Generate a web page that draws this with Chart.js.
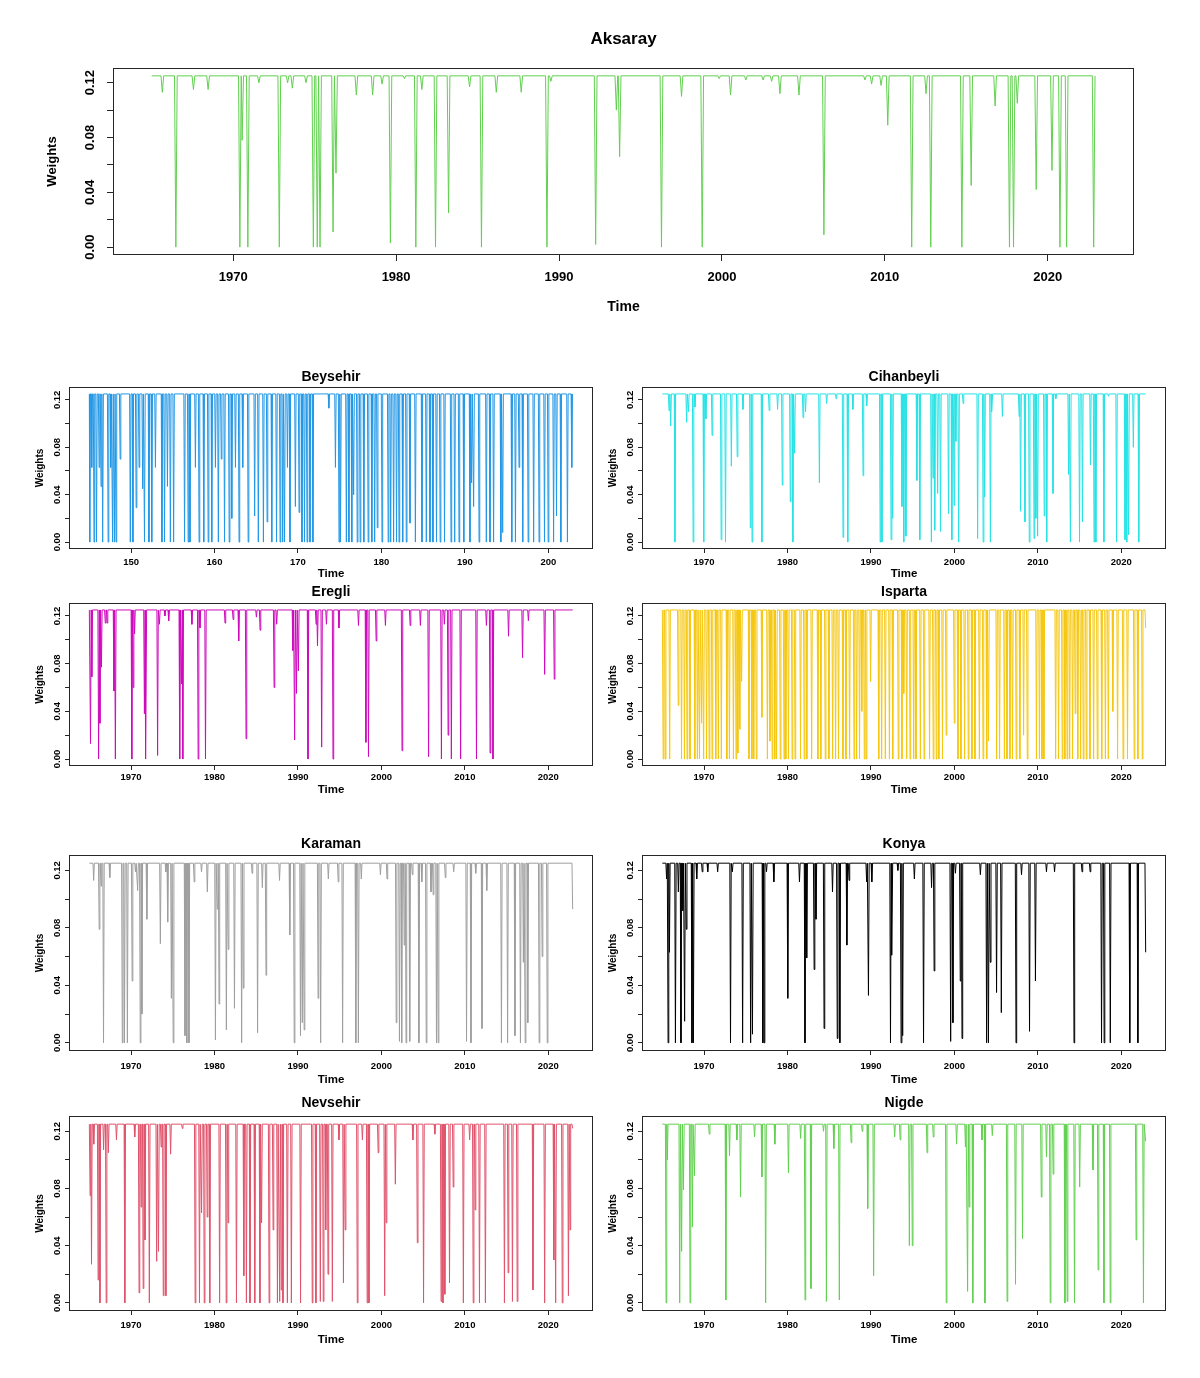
<!DOCTYPE html>
<html>
<head>
<meta charset="utf-8">
<script src="https://cdn.jsdelivr.net/npm/chart.js@4.4.1/dist/chart.umd.min.js"></script>
<style>
  body { margin: 0; background: #fff; }
  #page { position: relative; width: 1200px; height: 1378px; overflow: hidden; }
  #page canvas { position: absolute; }
</style>
</head>
<body>
<div id="page"></div>
<script>
// monthly weights, Jan 1965 - Dec 2022; the series sits at the top weight and dips
const baseWeight = 0.125;
const startYear = 1965;
const endYear = 2022.917;
const startIndex = 145;   // Beysehir is plotted against a plain index axis
const endIndex = 202.917;

const yearTicks = [1970, 1980, 1990, 2000, 2010, 2020];
const indexTicks = [150, 160, 170, 180, 190, 200];
const weightTicks = [0, 0.02, 0.04, 0.06, 0.08, 0.1, 0.12];
const weightTickLabels = ['0.00', '', '0.04', '', '0.08', '', '0.12'];

// dips: time of the lowest month and the weight it reaches
const aksarayTimes = [1965.65, 1966.48, 1967.56, 1968.46, 1970.41, 1970.55, 1970.90, 1971.58, 1972.83, 1973.34, 1973.63, 1974.47,
  1974.92, 1975.16, 1975.33, 1976.13, 1976.31, 1977.56, 1978.56, 1979.14, 1979.65, 1980.51, 1981.21, 1981.58, 1982.42,
  1983.22, 1984.51, 1985.24, 1986.15, 1987.68, 1989.26, 1989.5, 1992.25, 1993.52, 1993.72, 1996.29, 1997.52, 1998.79,
  1999.83, 2000.53, 2001.47, 2002.53, 2003.05, 2003.56, 2004.73, 2006.26, 2008.78, 2009.19, 2009.77, 2010.18, 2011.65,
  2012.53, 2012.82, 2014.73, 2015.3, 2016.77, 2017.65, 2017.9, 2018.13, 2019.29, 2020.26, 2020.75, 2021.16, 2022.82];
const aksarayWeights = [0.113, 0, 0.115, 0.115, 0, 0.078, 0, 0.12, 0, 0.12, 0.116, 0.12,
  0, 0, 0, 0.011, 0.054, 0.111, 0.111, 0.119, 0.003, 0.123, 0, 0.115, 0,
  0.025, 0.117, 0, 0.113, 0.113, 0, 0.121, 0.002, 0.1, 0.066, 0, 0.11, 0,
  0.123, 0.111, 0.122, 0.122, 0.121, 0.112, 0.111, 0.009, 0.122, 0.119, 0.118, 0.089, 0,
  0.112, 0, 0, 0.045, 0.103, 0, 0, 0.105, 0.042, 0.056, 0, 0, 0];

const beysehirTimes = [145.05, 145.29, 145.56, 145.86, 146.17, 146.4, 146.6, 147.25, 147.56, 147.78, 148.0, 148.2, 148.69,
  149.91, 150.22, 150.61, 150.96, 151.39, 151.61, 152.14, 152.48, 152.92, 153.7, 154.01, 154.36, 154.71, 155.1,
  156.41, 156.84, 157.06, 157.71, 158.15, 158.71, 159.24, 159.67, 160.11, 160.46, 160.81, 161.2, 161.76, 162.07,
  162.51, 162.94, 163.38, 164.03, 164.81, 165.25, 165.86, 166.3, 166.86, 167.43, 167.86, 168.17, 168.39, 168.74,
  169.04, 169.69, 170.13, 170.48, 170.78, 171.09, 171.44, 171.79, 173.7, 174.49, 174.92, 175.1, 175.8, 176.1,
  176.45, 176.67, 177.1, 177.45, 177.89, 178.41, 178.85, 179.19, 179.5, 180.07, 180.81, 181.11, 181.46, 181.81,
  182.11, 182.55, 182.98, 183.42, 184.07, 184.86, 185.38, 185.82, 186.17, 186.6, 187.04, 187.56, 188.34, 188.78,
  189.3, 189.87, 190.61, 190.8, 191.05, 191.7, 192.57, 193.01, 193.44, 194.31, 194.53, 195.62, 196.06, 196.49,
  196.93, 197.58, 198.24, 198.89, 199.54, 199.98, 200.63, 200.98, 201.5, 202.29, 202.81];
const beysehirWeights = [0, 0.063, 0, 0, 0.063, 0.047, 0, 0, 0.063, 0, 0, 0, 0.07,
  0, 0, 0.029, 0.063, 0.045, 0, 0, 0, 0.063, 0, 0, 0.047, 0, 0,
  0, 0, 0, 0.063, 0, 0, 0, 0, 0.063, 0, 0.07, 0, 0, 0.02,
  0.063, 0, 0.063, 0, 0.022, 0, 0, 0.017, 0, 0, 0, 0, 0, 0.063,
  0, 0.03, 0.025, 0, 0, 0, 0, 0, 0.113, 0.063, 0, 0, 0, 0,
  0, 0.04, 0, 0, 0, 0, 0, 0, 0.012, 0, 0, 0, 0, 0,
  0, 0, 0, 0.016, 0, 0, 0, 0, 0, 0, 0, 0, 0, 0,
  0, 0, 0, 0.05, 0.03, 0, 0, 0, 0, 0, 0.008, 0, 0, 0.063,
  0, 0, 0, 0, 0, 0, 0, 0.022, 0, 0, 0.063];

const cihanbeyliTimes = [1965.8, 1966.0, 1966.51, 1967.91, 1968.13, 1968.69, 1968.91, 1969.96, 1970.22, 1970.96, 1972.05, 1972.57,
  1973.27, 1973.97, 1974.66, 1975.54, 1975.75, 1976.93, 1977.8, 1978.81, 1979.37, 1980.33, 1980.64, 1980.85, 1981.86,
  1982.16, 1983.82, 1984.69, 1985.82, 1986.65, 1987.22, 1987.83, 1989.05, 1989.49, 1991.1, 1991.32, 1992.41, 1992.6,
  1993.71, 1993.93, 1994.19, 1995.5, 1995.85, 1997.24, 1997.44, 1997.64, 1997.99, 1998.33, 1999.29, 1999.69, 1999.95,
  2000.17, 2000.51, 2001.04, 2002.78, 2003.44, 2003.62, 2004.31, 2004.5, 2005.75, 2007.75, 2007.93, 2008.45, 2008.97,
  2009.54, 2009.76, 2009.97, 2010.76, 2011.06, 2011.81, 2012.15, 2013.68, 2013.9, 2014.99, 2015.34, 2016.3, 2016.73,
  2016.95, 2017.91, 2018.47, 2019.43, 2020.44, 2020.65, 2020.87, 2021.44, 2022.09];
const cihanbeyliWeights = [0.111, 0.098, 0, 0.101, 0.11, 0, 0.114, 0, 0.104, 0.09, 0.002, 0,
  0.064, 0.072, 0.112, 0.012, 0, 0, 0.111, 0.112, 0.048, 0.034, 0, 0.075, 0.105,
  0.11, 0.05, 0.117, 0.121, 0.004, 0, 0.112, 0.056, 0.115, 0, 0, 0.002, 0.02,
  0.03, 0, 0.005, 0.052, 0.002, 0, 0.054, 0.01, 0.041, 0.009, 0.024, 0.002, 0.031,
  0.085, 0, 0.117, 0.003, 0, 0.038, 0, 0.11, 0.106, 0.106, 0.026, 0.017, 0,
  0.003, 0.02, 0.005, 0.022, 0, 0.041, 0.121, 0.057, 0, 0, 0.017, 0.065, 0,
  0, 0, 0.123, 0, 0.002, 0, 0.006, 0.08, 0];

const eregliTimes = [1965.14, 1965.3, 1966.11, 1966.27, 1966.45, 1966.91, 1967.13, 1967.95, 1968.12, 1970.09, 1970.25, 1970.42,
  1971.6, 1971.78, 1973.18, 1973.4, 1974.06, 1974.51, 1975.83, 1976.05, 1976.2, 1977.29, 1978.04, 1978.26, 1978.92,
  1981.26, 1982.23, 1982.9, 1983.78, 1985.02, 1985.46, 1987.14, 1987.45, 1989.39, 1989.6, 1989.82, 1990.05, 1991.2,
  1992.17, 1992.34, 1992.84, 1993.41, 1994.2, 1994.91, 1997.25, 1998.14, 1998.45, 1999.37, 2000.48, 2002.47, 2003.44,
  2004.67, 2005.65, 2007.19, 2007.54, 2007.99, 2008.38, 2009.49, 2011.39, 2012.58, 2013.02, 2013.37, 2015.23, 2016.91,
  2017.61, 2019.56, 2020.71];
const eregliWeights = [0.013, 0.069, 0, 0.03, 0.077, 0.114, 0.114, 0.057, 0, 0, 0.06, 0.105,
  0.038, 0, 0.003, 0.113, 0.12, 0.116, 0, 0.063, 0, 0.113, 0, 0.11, 0,
  0.114, 0.117, 0.099, 0.017, 0.119, 0.108, 0.06, 0.113, 0.091, 0.016, 0.055, 0.074, 0,
  0.113, 0.095, 0.01, 0.113, 0, 0.11, 0.112, 0.014, 0.002, 0.099, 0.112, 0.007, 0.112,
  0.112, 0.002, 0, 0.113, 0.02, 0, 0, 0, 0.112, 0.005, 0, 0.103, 0.085,
  0.116, 0.071, 0.067];

const ispartaTimes = [1965.1, 1965.35, 1965.88, 1966.9, 1967.3, 1967.65, 1967.96, 1968.31, 1968.89, 1969.2, 1969.45, 1969.7,
  1969.95, 1970.3, 1970.61, 1970.96, 1971.4, 1971.71, 1972.07, 1972.73, 1973.04, 1973.52, 1973.83, 1974.05, 1974.28,
  1974.5, 1975.38, 1975.73, 1975.95, 1976.26, 1976.93, 1977.59, 1977.9, 1978.16, 1978.47, 1978.69, 1979.13, 1979.58,
  1979.8, 1980.11, 1980.55, 1980.9, 1981.56, 1982.0, 1982.31, 1982.89, 1983.64, 1983.99, 1984.52, 1984.96, 1985.41,
  1985.76, 1986.11, 1986.64, 1987.0, 1987.44, 1987.97, 1988.28, 1988.63, 1988.9, 1989.2, 1989.43, 1989.96, 1990.93,
  1991.28, 1991.72, 1992.21, 1992.61, 1993.27, 1993.71, 1993.93, 1994.28, 1994.68, 1995.12, 1995.39, 1995.92, 1996.36,
  1997.02, 1997.46, 1997.82, 1998.13, 1998.57, 1999.01, 1999.98, 2000.42, 2000.78, 2001.22, 2001.66, 2002.1, 2002.46,
  2002.99, 2003.43, 2003.87, 2004.09, 2005.06, 2005.41, 2005.99, 2006.3, 2006.65, 2006.96, 2007.4, 2007.84, 2008.29,
  2008.73, 2009.83, 2010.19, 2010.49, 2010.72, 2012.13, 2012.48, 2012.92, 2013.23, 2013.5, 2013.81, 2014.16, 2014.47,
  2014.78, 2015.13, 2015.44, 2015.8, 2016.24, 2016.68, 2017.12, 2017.65, 2018.09, 2018.44, 2018.98, 2019.55, 2020.21,
  2020.74, 2021.54, 2021.98, 2022.51, 2022.917];
const ispartaWeights = [0, 0, 0, 0.045, 0, 0, 0, 0, 0, 0, 0, 0.03,
  0, 0, 0, 0, 0, 0, 0, 0, 0, 0, 0, 0.005, 0.025,
  0.065, 0, 0, 0, 0, 0.035, 0, 0.015, 0, 0, 0, 0, 0,
  0, 0, 0, 0, 0, 0, 0, 0, 0, 0, 0, 0, 0,
  0, 0, 0, 0, 0, 0, 0, 0, 0.04, 0, 0, 0.065, 0,
  0, 0, 0, 0, 0, 0, 0.055, 0, 0, 0, 0, 0, 0,
  0, 0, 0, 0, 0, 0.02, 0.03, 0, 0, 0, 0, 0, 0,
  0, 0, 0, 0.015, 0, 0, 0, 0, 0, 0, 0, 0, 0.02,
  0, 0, 0, 0, 0, 0, 0, 0, 0, 0, 0, 0, 0.038,
  0, 0, 0, 0, 0, 0, 0, 0, 0, 0, 0.04, 0, 0,
  0, 0, 0, 0, 0.11];

const karamanTimes = [1965.52, 1966.18, 1966.4, 1966.7, 1967.45, 1968.95, 1969.21, 1969.56, 1970.13, 1970.53, 1970.79, 1971.1,
  1971.3, 1971.89, 1973.51, 1974.17, 1974.39, 1974.83, 1975.05, 1976.46, 1976.68, 1976.94, 1977.56, 1978.44, 1979.14,
  1980.11, 1980.33, 1980.54, 1981.42, 1981.64, 1982.39, 1983.25, 1983.45, 1984.5, 1985.16, 1985.73, 1986.17, 1987.79,
  1989.02, 1989.55, 1990.3, 1990.52, 1990.74, 1992.41, 1992.72, 1993.64, 1994.82, 1995.35, 1996.93, 1997.24, 1997.59,
  1999.88, 2000.67, 2001.77, 2002.16, 2002.43, 2002.73, 2002.95, 2003.39, 2003.7, 2004.49, 2004.84, 2005.37, 2005.94,
  2006.2, 2006.6, 2006.8, 2007.65, 2008.66, 2010.2, 2010.73, 2011.3, 2012.05, 2012.62, 2014.38, 2015.12, 2016.0,
  2016.66, 2017.01, 2017.23, 2017.54, 2018.9, 2019.26, 2019.87, 2022.917];
const karamanWeights = [0.113, 0.079, 0.109, 0, 0.115, 0, 0, 0, 0.043, 0.119, 0.106, 0,
  0.02, 0.086, 0.069, 0.119, 0.084, 0.031, 0, 0.005, 0, 0, 0.112, 0.119, 0.105,
  0.002, 0.093, 0.027, 0.009, 0.065, 0.024, 0, 0.038, 0.118, 0.007, 0.108, 0.047, 0.113,
  0.075, 0, 0.005, 0.014, 0.009, 0.031, 0, 0.114, 0.112, 0, 0, 0, 0.114,
  0.117, 0.114, 0.014, 0.001, 0, 0.068, 0, 0.001, 0.117, 0, 0.112, 0, 0.105,
  0.103, 0, 0, 0.115, 0.119, 0.001, 0, 0.118, 0.01, 0.106, 0, 0, 0.005,
  0, 0.056, 0, 0.014, 0, 0.06, 0, 0.093];

const konyaTimes = [1965.51, 1965.69, 1965.85, 1966.57, 1966.92, 1967.23, 1967.45, 1967.67, 1967.87, 1968.55, 1968.72, 1969.12,
  1969.78, 1970.44, 1971.63, 1973.17, 1973.39, 1974.62, 1975.58, 1975.8, 1977.04, 1977.2, 1977.48, 1978.36, 1980.03,
  1981.43, 1982.09, 1982.3, 1983.19, 1983.41, 1984.38, 1985.39, 1985.96, 1986.27, 1987.11, 1987.37, 1989.48, 1989.7,
  1990.1, 1992.34, 1992.52, 1993.22, 1993.61, 1993.8, 1995.2, 1996.3, 1997.26, 1997.57, 1999.55, 1999.82, 2000.12,
  2000.7, 2000.91, 2003.11, 2003.86, 2004.08, 2004.3, 2005.05, 2005.62, 2007.38, 2008.04, 2009.0, 2009.71, 2011.03,
  2012.0, 2014.33, 2015.29, 2016.26, 2017.63, 2017.94, 2018.68, 2021.01, 2021.98, 2022.917];
const konyaWeights = [0.114, 0, 0.063, 0, 0.105, 0, 0.092, 0.015, 0.079, 0, 0, 0.114,
  0.119, 0.119, 0.119, 0, 0.119, 0, 0, 0.006, 0, 0, 0.119, 0.112, 0.031,
  0.112, 0, 0.059, 0.051, 0.086, 0.01, 0.105, 0.003, 0, 0.068, 0.113, 0.112, 0.033,
  0.112, 0, 0.061, 0.12, 0, 0.005, 0.114, 0, 0.108, 0.05, 0.001, 0.014, 0.118,
  0.043, 0.003, 0.117, 0, 0, 0.056, 0.035, 0.021, 0, 0.117, 0.008, 0.043, 0.119,
  0.119, 0, 0.119, 0.119, 0, 0, 0, 0, 0, 0.063];

const nevsehirTimes = [1965.09, 1965.26, 1965.53, 1966.05, 1966.27, 1966.71, 1967.02, 1967.28, 1968.25, 1969.25, 1970.44, 1970.96,
  1971.2, 1971.45, 1971.67, 1972.19, 1973.07, 1973.29, 1973.6, 1973.86, 1974.17, 1974.74, 1976.14, 1977.68, 1978.2,
  1978.45, 1978.77, 1979.12, 1979.43, 1980.61, 1981.4, 1981.62, 1982.63, 1983.51, 1983.82, 1984.25, 1984.82, 1985.44,
  1985.64, 1986.54, 1987.02, 1987.54, 1987.81, 1988.0, 1988.2, 1988.73, 1989.21, 1990.31, 1991.71, 1992.15, 1992.68,
  1993.03, 1993.33, 1993.6, 1994.12, 1994.91, 1995.45, 1995.66, 1997.11, 1997.72, 1998.29, 1998.51, 1999.61, 2000.39,
  2000.57, 2001.67, 2003.77, 2004.3, 2005.05, 2006.4, 2007.15, 2007.37, 2007.6, 2008.16, 2008.6, 2009.82, 2010.57,
  2011.0, 2011.23, 2011.75, 2012.46, 2014.74, 2015.18, 2015.7, 2016.27, 2018.16, 2019.56, 2020.66, 2020.88, 2021.67,
  2022.41, 2022.6, 2022.917];
const nevsehirWeights = [0.075, 0.027, 0.111, 0.016, 0, 0.107, 0, 0.105, 0.114, 0, 0.116, 0.007,
  0.067, 0.01, 0.044, 0, 0.029, 0.036, 0.109, 0.005, 0.005, 0.104, 0.122, 0, 0,
  0.063, 0, 0.06, 0, 0, 0, 0.056, 0, 0.019, 0, 0, 0, 0,
  0.056, 0, 0.051, 0, 0.001, 0.009, 0, 0, 0, 0, 0, 0, 0.001,
  0.001, 0.051, 0.02, 0.001, 0.114, 0.014, 0.051, 0, 0.114, 0, 0, 0.105, 0.005,
  0.056, 0.083, 0.114, 0.042, 0, 0.118, 0.001, 0, 0.006, 0.014, 0.081, 0, 0.114,
  0, 0.065, 0, 0, 0, 0.021, 0.001, 0.001, 0.009, 0, 0.03, 0, 0,
  0.005, 0.051, 0.122];

const nigdeTimes = [1965.45, 1965.6, 1967.08, 1967.31, 1967.53, 1968.32, 1968.6, 1968.85, 1970.62, 1972.61, 1973.05, 1973.93,
  1974.37, 1976.05, 1976.93, 1977.38, 1978.48, 1980.11, 1981.57, 1982.1, 1982.81, 1984.31, 1984.66, 1985.55, 1986.21,
  1987.62, 1988.95, 1989.61, 1990.32, 1992.84, 1993.5, 1994.6, 1994.95, 1996.72, 1997.47, 1999.02, 2000.26, 2001.32,
  2001.58, 2001.76, 2002.2, 2003.3, 2003.66, 2004.54, 2006.31, 2007.32, 2008.16, 2010.41, 2011.03, 2011.48, 2011.83,
  2013.24, 2013.51, 2014.39, 2015.01, 2016.6, 2017.22, 2017.92, 2018.67, 2021.77, 2022.65, 2022.917];
const nigdeWeights = [0, 0.1, 0, 0.036, 0.079, 0, 0.053, 0.089, 0.118, 0.002, 0.103, 0.114,
  0.074, 0.116, 0.088, 0, 0.111, 0.091, 0.115, 0.002, 0.01, 0.12, 0.001, 0.108, 0.002,
  0.112, 0.12, 0.066, 0.019, 0.116, 0.114, 0.04, 0.04, 0.105, 0.116, 0, 0.111, 0.109,
  0.008, 0.067, 0, 0.114, 0, 0.117, 0.001, 0.013, 0.045, 0.074, 0.102, 0, 0.09,
  0, 0.001, 0, 0.081, 0.093, 0.023, 0, 0, 0.044, 0, 0.113];

const fontFamily = "'Liberation Sans', Arial, Helvetica, sans-serif";
const monthStep = 1 / 12;

// turn a list of dips into line points: flat at the base weight, one month down and back up
function buildSeries(times, weights, start, end) {
    const pts = [{ x: start, y: baseWeight }];
    times.forEach((t, i) => {
        let last = pts[pts.length - 1];
        if (last.x >= t && last.y === baseWeight && pts.length > 1) {
            pts.pop();
            last = pts[pts.length - 1];
        }
        if (t - monthStep > last.x) pts.push({ x: t - monthStep, y: baseWeight });
        pts.push({ x: t, y: weights[i] });
        if (t + monthStep <= end) pts.push({ x: t + monthStep, y: baseWeight });
    });
    if (pts[pts.length - 1].x < end) pts.push({ x: end, y: baseWeight });
    return pts;
}

function textWidth(text, size) {
    const c = document.createElement('canvas').getContext('2d');
    c.font = `bold ${size}px ${fontFamily}`;
    return c.measureText(text).width;
}

// draws the closed plot frame like R's box()
const plotBox = {
    id: 'plotBox',
    afterDatasetsDraw(chart) {
        const a = chart.chartArea;
        const ctx = chart.ctx;
        ctx.save();
        ctx.strokeStyle = '#262626';
        ctx.lineWidth = 1;
        ctx.strokeRect(Math.round(a.left) - 0.5, Math.round(a.top) - 0.5,
            Math.round(a.right) - Math.round(a.left) + 1, Math.round(a.bottom) - Math.round(a.top) + 1);
        ctx.restore();
    }
};

const bigLayout = { titleFont: 17, tickFont: 13, weightsFont: 13, timeFont: 14, tickLen: 7 };
const smallLayout = { titleFont: 14, tickFont: 9.5, weightsFont: 10, timeFont: 11.5, tickLen: 5 };
const colLeft = { l: 70, r: 592, weightsX: 40, ytickX: 57 };
const colRight = { l: 643, r: 1165, weightsX: 613, ytickX: 630 };
const rows = [
    { t: 388, b: 548, titleY: 377, tickY: 562, timeY: 574 },
    { t: 604, b: 765, titleY: 592.5, tickY: 777, timeY: 790 },
    { t: 856, b: 1050, titleY: 844, tickY: 1066, timeY: 1080 },
    { t: 1117, b: 1310, titleY: 1103, tickY: 1325, timeY: 1340 }
];

function smallPanel(col, row) {
    return Object.assign({}, smallLayout, {
        box: { l: col.l, r: col.r, t: row.t, b: row.b },
        titleY: row.titleY, tickY: row.tickY, timeY: row.timeY,
        weightsX: col.weightsX, ytickX: col.ytickX
    });
}

const panels = [
    Object.assign({ name: 'Aksaray', color: '#61D04F', times: aksarayTimes, weights: aksarayWeights },
        bigLayout, { box: { l: 114, r: 1133, t: 69, b: 254 }, titleY: 39, tickY: 277, timeY: 307, weightsX: 52, ytickX: 90 }),
    Object.assign({ name: 'Beysehir', color: '#2297E6', times: beysehirTimes, weights: beysehirWeights, index: true }, smallPanel(colLeft, rows[0])),
    Object.assign({ name: 'Cihanbeyli', color: '#28E2E5', times: cihanbeyliTimes, weights: cihanbeyliWeights }, smallPanel(colRight, rows[0])),
    Object.assign({ name: 'Eregli', color: '#CD0BBC', times: eregliTimes, weights: eregliWeights }, smallPanel(colLeft, rows[1])),
    Object.assign({ name: 'Isparta', color: '#F5C710', times: ispartaTimes, weights: ispartaWeights }, smallPanel(colRight, rows[1])),
    Object.assign({ name: 'Karaman', color: '#9E9E9E', times: karamanTimes, weights: karamanWeights }, smallPanel(colLeft, rows[2])),
    Object.assign({ name: 'Konya', color: '#000000', times: konyaTimes, weights: konyaWeights }, smallPanel(colRight, rows[2])),
    Object.assign({ name: 'Nevsehir', color: '#DF536B', times: nevsehirTimes, weights: nevsehirWeights }, smallPanel(colLeft, rows[3])),
    Object.assign({ name: 'Nigde', color: '#61D04F', times: nigdeTimes, weights: nigdeWeights }, smallPanel(colRight, rows[3]))
];

function drawPanel(p) {
    const left = Math.round(p.weightsX - p.weightsFont);
    const top = Math.round(p.titleY - p.titleFont - 2);
    const right = p.box.r + 15;
    const bottom = Math.round(p.timeY + p.timeFont);
    const W = right - left;
    const H = bottom - top;

    const canvas = document.createElement('canvas');
    canvas.width = W;
    canvas.height = H;
    canvas.style.left = left + 'px';
    canvas.style.top = top + 'px';
    document.getElementById('page').appendChild(canvas);

    const start = p.index ? startIndex : startYear;
    const end = p.index ? endIndex : endYear;
    const span = (end - start) * 0.04;   // R pads the data range by 4%
    const xTicks = p.index ? indexTicks : yearTicks;
    const widest = textWidth('0.00', p.tickFont);

    const titleLH = p.titleFont * 1.2;
    const tickLH = p.tickFont * 1.2;
    const weightsLH = p.weightsFont * 1.2;
    const timeLH = p.timeFont * 1.2;

    new Chart(canvas, {
        type: 'line',
        data: {
            datasets: [{
                data: buildSeries(p.times, p.weights, start, end),
                borderColor: p.color,
                borderWidth: 1,
                pointRadius: 0,
                tension: 0,
                fill: false
            }]
        },
        options: {
            responsive: false,
            animation: false,
            devicePixelRatio: 1,
            events: [],
            layout: { padding: { left: 0, top: 0, bottom: 0, right: W - (p.box.r - left) } },
            plugins: {
                legend: { display: false },
                tooltip: { enabled: false },
                title: {
                    display: true,
                    text: p.name,
                    fullSize: false,
                    color: '#000',
                    font: { family: fontFamily, size: p.titleFont, weight: 'bold', lineHeight: 1.2 },
                    padding: { top: p.titleY - top - titleLH / 2, bottom: p.box.t - p.titleY - titleLH / 2 }
                }
            },
            scales: {
                x: {
                    type: 'linear',
                    min: start - span,
                    max: end + span,
                    afterFit: (s) => { s.height = H - (p.box.b - top); },
                    afterBuildTicks: (s) => { s.ticks = xTicks.map(v => ({ value: v })); },
                    ticks: {
                        autoSkip: false,
                        maxRotation: 0,
                        color: '#000',
                        padding: p.tickY - p.box.b - p.tickLen - tickLH / 2,
                        font: { family: fontFamily, size: p.tickFont, weight: 'bold' },
                        callback: (v) => String(v)
                    },
                    grid: { display: true, drawOnChartArea: false, drawTicks: true, tickLength: p.tickLen, tickColor: '#262626' },
                    border: { display: false },
                    title: {
                        display: true,
                        text: 'Time',
                        color: '#000',
                        font: { family: fontFamily, size: p.timeFont, weight: 'bold', lineHeight: 1.2 },
                        padding: { top: 0, bottom: bottom - p.timeY - timeLH / 2 }
                    }
                },
                y: {
                    type: 'linear',
                    min: -0.005,
                    max: 0.13,
                    afterFit: (s) => { s.width = p.box.l - left; },
                    afterBuildTicks: (s) => { s.ticks = weightTicks.map(v => ({ value: v })); },
                    ticks: {
                        autoSkip: false,
                        minRotation: 90,
                        maxRotation: 90,
                        crossAlign: 'center',
                        color: '#000',
                        padding: p.box.l - p.tickLen - p.ytickX - widest / 2,
                        font: { family: fontFamily, size: p.tickFont, weight: 'bold' },
                        callback: (v, i) => weightTickLabels[i]
                    },
                    grid: { display: true, drawOnChartArea: false, drawTicks: true, tickLength: p.tickLen, tickColor: '#262626' },
                    border: { display: false },
                    title: {
                        display: true,
                        text: 'Weights',
                        color: '#000',
                        font: { family: fontFamily, size: p.weightsFont, weight: 'bold', lineHeight: 1.2 },
                        padding: { top: p.weightsX - left - weightsLH / 2, bottom: 0 }
                    }
                }
            }
        },
        plugins: [plotBox]
    });
}

panels.forEach(drawPanel);
</script>
</body>
</html>
